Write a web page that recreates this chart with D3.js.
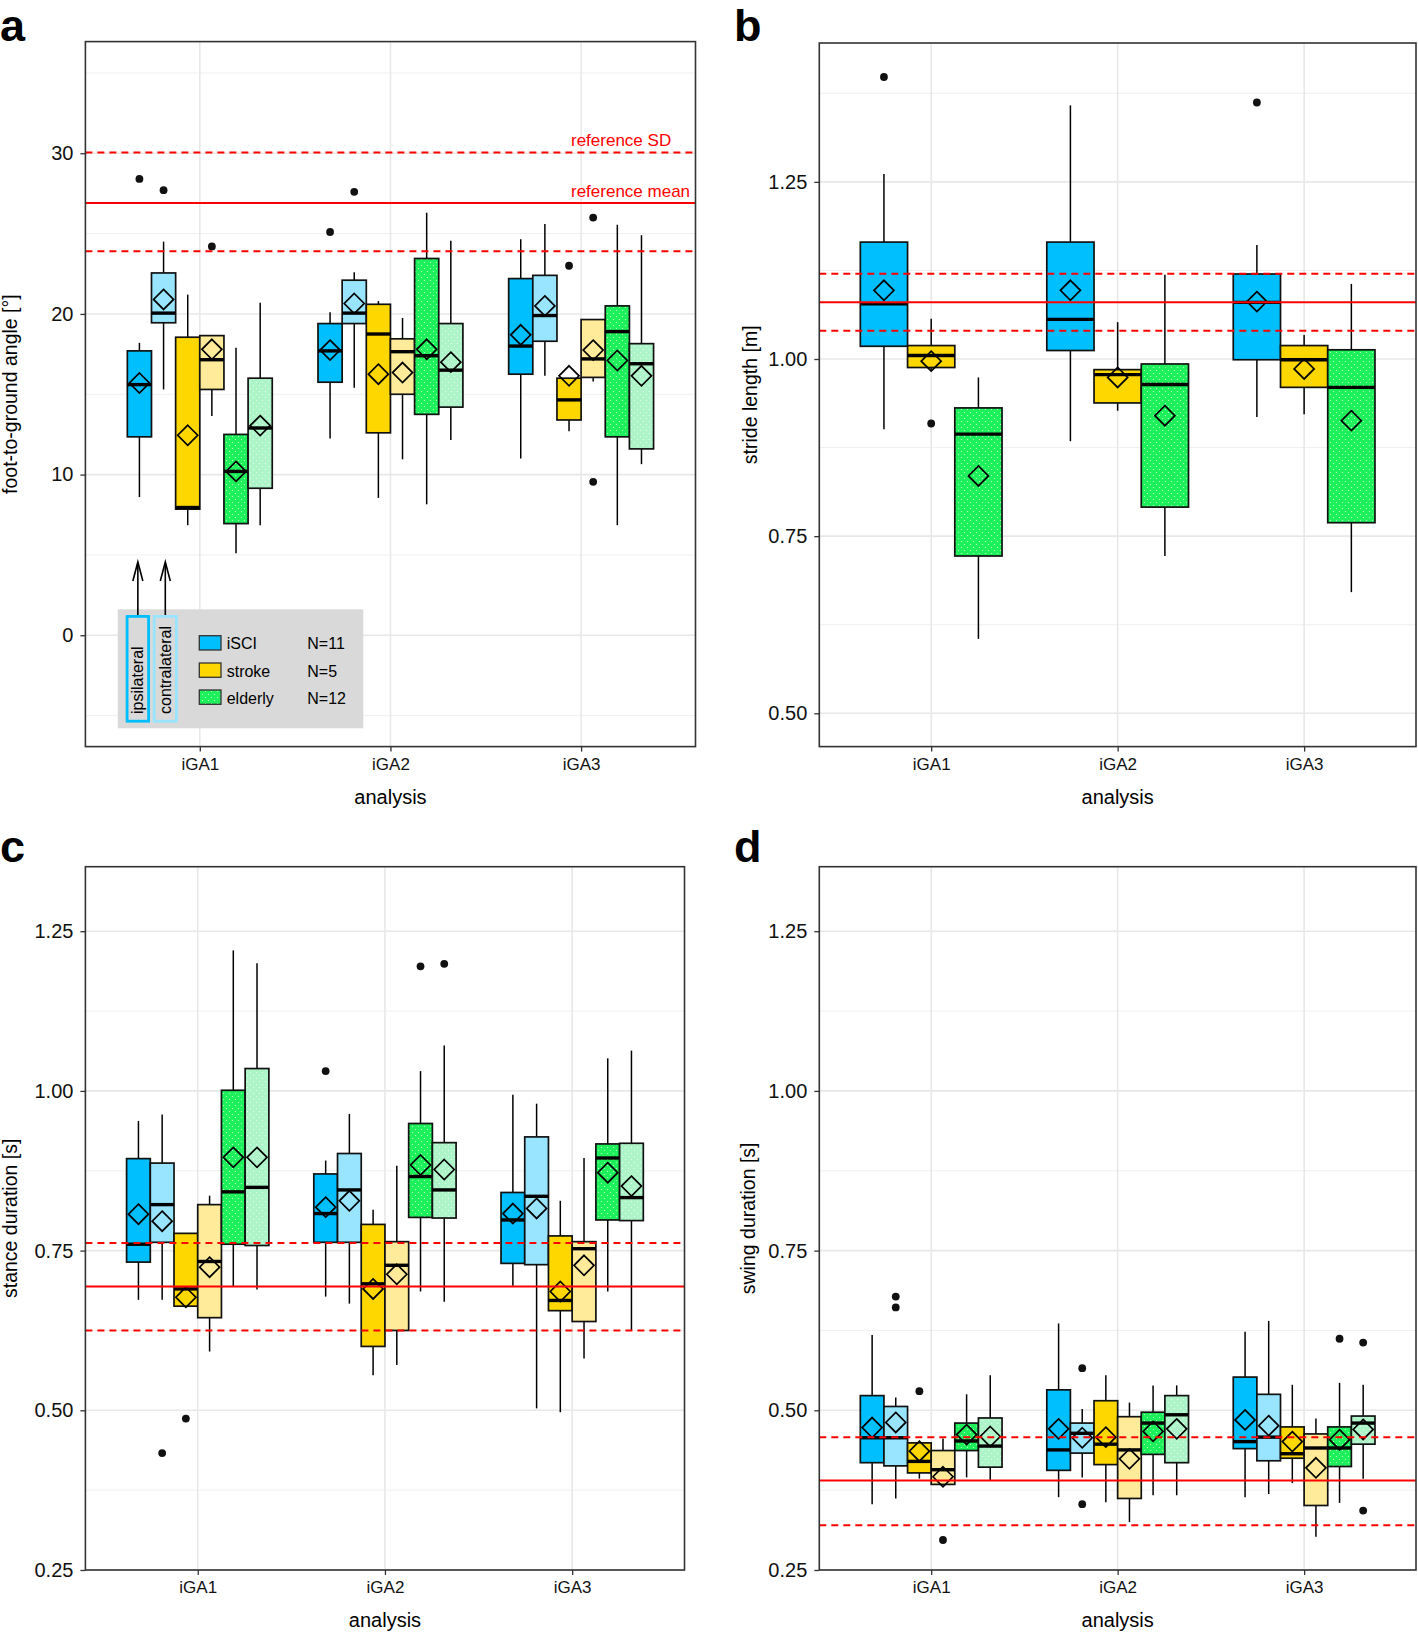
<!DOCTYPE html>
<html><head><meta charset="utf-8">
<script src="https://cdn.jsdelivr.net/npm/d3@7"></script>
<style>
body{margin:0;background:#fff;}
svg{display:block;font-family:"Liberation Sans",Arial,Helvetica,sans-serif;}
</style>
</head><body>
<svg id="chart" width="1418" height="1632"></svg>
<script>
// ---------------- DATA ----------------
const analyses = ["iGA1", "iGA2", "iGA3"];
const sideGroups = ["iSCI-ipsi", "iSCI-contra", "stroke-ipsi", "stroke-contra", "elderly-ipsi", "elderly-contra"];
const cohortGroups = ["iSCI", "stroke", "elderly"];
const legendLabels = ["iSCI", "stroke", "elderly"];
const legendCounts = ["N=11", "N=5", "N=12"];
const sideLabels = ["ipsilateral", "contralateral"];
const refLabels = ["reference SD", "reference mean"];

const angleTicks = [0, 10, 20, 30];
const strideTicks = [0.50, 0.75, 1.00, 1.25];
const durationTicks = [0.25, 0.50, 0.75, 1.00, 1.25];

// columns: analysis, group, lower whisker, Q1, median, Q3, upper whisker, mean
const angleStats = [
  ["iGA1","iSCI-ipsi",     8.6, 12.35, 15.6, 17.7, 18.2, 15.7],
  ["iGA1","iSCI-contra",  15.3, 19.45, 20.05, 22.55, 24.5, 20.9],
  ["iGA1","stroke-ipsi",   6.85, 7.85, 7.95, 18.55, 21.2, 12.45],
  ["iGA1","stroke-contra",13.65, 15.3, 17.15, 18.65, 18.65, 17.8],
  ["iGA1","elderly-ipsi",  5.1, 6.95, 10.2, 12.5, 17.9, 10.2],
  ["iGA1","elderly-contra",6.85, 9.15, 12.9, 16.0, 20.7, 13.05],
  ["iGA2","iSCI-ipsi",    12.25, 15.75, 17.7, 19.4, 20.1, 17.75],
  ["iGA2","iSCI-contra",  15.4, 19.4, 20.05, 22.1, 22.6, 20.65],
  ["iGA2","stroke-ipsi",   8.55, 12.6, 18.75, 20.6, 20.8, 16.25],
  ["iGA2","stroke-contra",10.95, 15.0, 17.65, 18.45, 19.75, 16.35],
  ["iGA2","elderly-ipsi",  8.15, 13.75, 17.4, 23.45, 26.3, 17.8],
  ["iGA2","elderly-contra",12.15, 14.2, 16.5, 19.4, 24.55, 17.0],
  ["iGA3","iSCI-ipsi",    11.0, 16.25, 18.0, 22.2, 24.65, 18.7],
  ["iGA3","iSCI-contra",  16.15, 18.3, 19.9, 22.4, 25.6, 20.5],
  ["iGA3","stroke-ipsi",  12.7, 13.4, 14.65, 16.0, 16.0, 16.15],
  ["iGA3","stroke-contra",15.8, 16.05, 17.2, 19.65, 19.65, 17.75],
  ["iGA3","elderly-ipsi",  6.85, 12.35, 18.9, 20.5, 25.55, 17.1],
  ["iGA3","elderly-contra",10.65, 11.6, 16.9, 18.15, 24.9, 16.15]
];
const angleOutliers = [
  ["iGA1","iSCI-ipsi",28.4], ["iGA1","iSCI-contra",27.7], ["iGA1","stroke-contra",24.2],
  ["iGA2","iSCI-ipsi",25.1], ["iGA2","iSCI-contra",27.6],
  ["iGA3","stroke-ipsi",23.0], ["iGA3","stroke-contra",26.0], ["iGA3","stroke-contra",9.55]
];
const angleReference = [26.9, 23.9, 30.05]; // mean, mean-SD, mean+SD

const strideStats = [
  ["iGA1","iSCI",    0.901, 1.018, 1.078, 1.165, 1.261, 1.097],
  ["iGA1","stroke",  0.985, 0.988, 1.005, 1.019, 1.057, 0.997],
  ["iGA1","elderly", 0.605, 0.722, 0.894, 0.931, 0.974, 0.835],
  ["iGA2","iSCI",    0.884, 1.012, 1.056, 1.165, 1.358, 1.097],
  ["iGA2","stroke",  0.927, 0.938, 0.978, 0.985, 1.052, 0.974],
  ["iGA2","elderly", 0.722, 0.791, 0.964, 0.993, 1.119, 0.920],
  ["iGA3","iSCI",    0.918, 0.999, 1.080, 1.120, 1.161, 1.081],
  ["iGA3","stroke",  0.922, 0.960, 0.999, 1.019, 1.034, 0.986],
  ["iGA3","elderly", 0.671, 0.769, 0.960, 1.013, 1.106, 0.913]
];
const strideOutliers = [["iGA1","iSCI",1.398], ["iGA1","stroke",0.909], ["iGA3","iSCI",1.362]];
const strideReference = [1.080, 1.040, 1.1205];

const stanceStats = [
  ["iGA1","iSCI-ipsi",     0.673, 0.732, 0.760, 0.894, 0.953, 0.807],
  ["iGA1","iSCI-contra",   0.673, 0.763, 0.822, 0.887, 0.963, 0.796],
  ["iGA1","stroke-ipsi",   0.663, 0.663, 0.690, 0.777, 0.777, 0.677],
  ["iGA1","stroke-contra", 0.592, 0.645, 0.733, 0.822, 0.836, 0.724],
  ["iGA1","elderly-ipsi",  0.694, 0.760, 0.842, 1.001, 1.220, 0.896],
  ["iGA1","elderly-contra",0.689, 0.758, 0.849, 1.035, 1.200, 0.896],
  ["iGA2","iSCI-ipsi",     0.678, 0.763, 0.808, 0.870, 0.891, 0.818],
  ["iGA2","iSCI-contra",   0.667, 0.763, 0.845, 0.902, 0.964, 0.828],
  ["iGA2","stroke-ipsi",   0.555, 0.600, 0.698, 0.791, 0.814, 0.690],
  ["iGA2","stroke-contra", 0.571, 0.625, 0.727, 0.764, 0.883, 0.713],
  ["iGA2","elderly-ipsi",  0.686, 0.802, 0.866, 0.949, 1.031, 0.884],
  ["iGA2","elderly-contra",0.670, 0.801, 0.845, 0.919, 1.071, 0.877],
  ["iGA3","iSCI-ipsi",     0.695, 0.730, 0.798, 0.841, 0.994, 0.808],
  ["iGA3","iSCI-contra",   0.503, 0.728, 0.835, 0.928, 0.980, 0.816],
  ["iGA3","stroke-ipsi",   0.497, 0.656, 0.672, 0.773, 0.828, 0.686],
  ["iGA3","stroke-contra", 0.581, 0.639, 0.753, 0.764, 0.895, 0.727],
  ["iGA3","elderly-ipsi",  0.686, 0.798, 0.895, 0.917, 1.051, 0.872],
  ["iGA3","elderly-contra",0.625, 0.797, 0.833, 0.918, 1.063, 0.851]
];
const stanceOutliers = [
  ["iGA1","iSCI-contra",0.433], ["iGA1","stroke-ipsi",0.487],
  ["iGA2","iSCI-ipsi",1.031], ["iGA2","elderly-ipsi",1.195], ["iGA2","elderly-contra",1.199]
];
const stanceReference = [0.694, 0.625, 0.762];

const swingStats = [
  ["iGA1","iSCI-ipsi",     0.353, 0.418, 0.457, 0.523, 0.618, 0.473],
  ["iGA1","iSCI-contra",   0.362, 0.413, 0.457, 0.506, 0.520, 0.481],
  ["iGA1","stroke-ipsi",   0.393, 0.402, 0.420, 0.449, 0.449, 0.436],
  ["iGA1","stroke-contra", 0.384, 0.384, 0.407, 0.437, 0.456, 0.396],
  ["iGA1","elderly-ipsi",  0.395, 0.437, 0.452, 0.480, 0.525, 0.462],
  ["iGA1","elderly-contra",0.391, 0.411, 0.444, 0.488, 0.555, 0.459],
  ["iGA2","iSCI-ipsi",     0.364, 0.406, 0.438, 0.532, 0.636, 0.471],
  ["iGA2","iSCI-contra",   0.395, 0.433, 0.464, 0.480, 0.502, 0.457],
  ["iGA2","stroke-ipsi",   0.356, 0.415, 0.447, 0.515, 0.555, 0.458],
  ["iGA2","stroke-contra", 0.325, 0.362, 0.438, 0.490, 0.512, 0.424],
  ["iGA2","elderly-ipsi",  0.367, 0.431, 0.480, 0.497, 0.539, 0.467],
  ["iGA2","elderly-contra",0.367, 0.418, 0.493, 0.523, 0.539, 0.471],
  ["iGA3","iSCI-ipsi",     0.364, 0.440, 0.451, 0.552, 0.623, 0.485],
  ["iGA3","iSCI-contra",   0.369, 0.421, 0.458, 0.525, 0.640, 0.476],
  ["iGA3","stroke-ipsi",   0.386, 0.425, 0.432, 0.474, 0.540, 0.451],
  ["iGA3","stroke-contra", 0.302, 0.351, 0.441, 0.463, 0.487, 0.410],
  ["iGA3","elderly-ipsi",  0.355, 0.412, 0.441, 0.474, 0.543, 0.454],
  ["iGA3","elderly-contra",0.393, 0.447, 0.480, 0.491, 0.540, 0.470]
];
const swingOutliers = [
  ["iGA1","iSCI-contra",0.678], ["iGA1","iSCI-contra",0.661], ["iGA1","stroke-ipsi",0.530], ["iGA1","stroke-contra",0.297],
  ["iGA2","iSCI-contra",0.566], ["iGA2","iSCI-contra",0.353],
  ["iGA3","elderly-ipsi",0.612], ["iGA3","elderly-contra",0.606], ["iGA3","elderly-contra",0.343]
];
const swingReference = [0.390, 0.320, 0.458];

// ---------------- STYLE ----------------
const fillColor = {
  "iSCI-ipsi":"#00bfff", "iSCI-contra":"#99e5ff",
  "stroke-ipsi":"#ffd700", "stroke-contra":"#ffeb99",
  "elderly-ipsi":"#1ef05c", "elderly-contra":"#adf5c9",
  "iSCI":"#00bfff", "stroke":"#ffd700", "elderly":"#1ef05c"
};
const svg = d3.select("#chart");
const defs = svg.append("defs");
["elderly-ipsi","elderly-contra","elderly"].forEach(k => {
  const p = defs.append("pattern").attr("id","pat-"+k).attr("width",6).attr("height",6)
    .attr("patternUnits","userSpaceOnUse");
  p.append("rect").attr("width",6).attr("height",6).attr("fill",fillColor[k]);
  p.append("circle").attr("cx",1.5).attr("cy",1.5).attr("r",0.6).attr("fill","#fff").attr("opacity",0.75);
  p.append("circle").attr("cx",4.5).attr("cy",4.5).attr("r",0.6).attr("fill","#fff").attr("opacity",0.75);
});
const fillFor = g => g.startsWith("elderly") ? `url(#pat-${g})` : fillColor[g];

const panels = [
  {letter:"a", lx:0, ly:41, left:85.4, right:695.5, top:41.6, bottom:746.6, ydomain:[-6.93,36.95],
   ticks:angleTicks, fmt:d3.format("d"), groups:sideGroups, stats:angleStats, outliers:angleOutliers,
   ref:angleReference, ytitle:"foot-to-ground angle [°]", tx:17},
  {letter:"b", lx:734, ly:41, left:819.3, right:1416, top:43, bottom:746.6, ydomain:[0.453,1.446],
   ticks:strideTicks, fmt:d3.format(".2f"), groups:cohortGroups, stats:strideStats, outliers:strideOutliers,
   ref:strideReference, ytitle:"stride length [m]", tx:757},
  {letter:"c", lx:0, ly:862, left:85.4, right:684.5, top:866.7, bottom:1570, ydomain:[0.25,1.351],
   ticks:durationTicks, fmt:d3.format(".2f"), groups:sideGroups, stats:stanceStats, outliers:stanceOutliers,
   ref:stanceReference, ytitle:"stance duration [s]", tx:17},
  {letter:"d", lx:734, ly:862, left:819.3, right:1416, top:866.7, bottom:1570, ydomain:[0.25,1.351],
   ticks:durationTicks, fmt:d3.format(".2f"), groups:sideGroups, stats:swingStats, outliers:swingOutliers,
   ref:swingReference, ytitle:"swing duration [s]", tx:755}
];

function drawPanel(P) {
  const g = svg.append("g");
  const x = d3.scalePoint().domain(analyses).range([P.left, P.right]).padding(0.6);
  const y = d3.scaleLinear().domain(P.ydomain).range([P.bottom, P.top]);
  const dodge = d3.scaleBand().domain(P.groups).range([-0.38*x.step(), 0.38*x.step()]);
  const bw = dodge.bandwidth();

  // grid
  const step = P.ticks[1]-P.ticks[0];
  const minor = [P.ticks[0]-step/2, ...P.ticks.map(t=>t+step/2)].filter(v=>v>P.ydomain[0]&&v<P.ydomain[1]);
  g.append("g").selectAll("line").data(minor).join("line")
    .attr("x1",P.left).attr("x2",P.right).attr("y1",d=>y(d)).attr("y2",d=>y(d))
    .attr("stroke","#f0f0f0").attr("stroke-width",1);
  g.append("g").selectAll("line").data(P.ticks).join("line")
    .attr("x1",P.left).attr("x2",P.right).attr("y1",d=>y(d)).attr("y2",d=>y(d))
    .attr("stroke","#e8e8e8").attr("stroke-width",1.6);
  g.append("g").selectAll("line").data(analyses).join("line")
    .attr("x1",d=>x(d)).attr("x2",d=>x(d)).attr("y1",P.top).attr("y2",P.bottom)
    .attr("stroke","#e8e8e8").attr("stroke-width",1.6);

  // boxes
  const cxOf = (an, grp) => x(an) + dodge(grp) + bw/2;
  P.stats.forEach(r => {
    const [an, grp, wlo, q1, med, q3, whi] = r;
    const cx = cxOf(an, grp);
    const bg = g.append("g");
    bg.append("line").attr("x1",cx).attr("x2",cx).attr("y1",y(whi)).attr("y2",y(q3))
      .attr("stroke","#000").attr("stroke-width",1.5);
    bg.append("line").attr("x1",cx).attr("x2",cx).attr("y1",y(q1)).attr("y2",y(wlo))
      .attr("stroke","#000").attr("stroke-width",1.5);
    bg.append("rect").attr("x",cx-bw/2).attr("y",y(q3)).attr("width",bw).attr("height",y(q1)-y(q3))
      .attr("fill",fillFor(grp)).attr("stroke","#111").attr("stroke-width",1.7);
    bg.append("line").attr("x1",cx-bw/2).attr("x2",cx+bw/2).attr("y1",y(med)).attr("y2",y(med))
      .attr("stroke","#000").attr("stroke-width",3.4);
  });
  // outliers
  g.append("g").selectAll("circle").data(P.outliers).join("circle")
    .attr("cx",d=>cxOf(d[0],d[1])).attr("cy",d=>y(d[2])).attr("r",3.9).attr("fill","#111");
  // means (open diamonds)
  g.append("g").selectAll("path").data(P.stats).join("path")
    .attr("d", d => { const cx = cxOf(d[0],d[1]), cy = y(d[7]), s = 10;
      return `M${cx},${cy-s}L${cx+s},${cy}L${cx},${cy+s}L${cx-s},${cy}Z`; })
    .attr("fill","none").attr("stroke","#000").attr("stroke-width",1.7);

  // reference lines
  const [rm, rlo, rhi] = P.ref;
  g.append("line").attr("x1",P.left).attr("x2",P.right).attr("y1",y(rm)).attr("y2",y(rm))
    .attr("stroke","#ff0000").attr("stroke-width",2);
  [rlo, rhi].forEach(v => g.append("line").attr("x1",P.left).attr("x2",P.right).attr("y1",y(v)).attr("y2",y(v))
    .attr("stroke","#ff0000").attr("stroke-width",2).attr("stroke-dasharray","7,5"));

  // axes
  const ya = g.append("g").attr("transform",`translate(${P.left},0)`)
    .call(d3.axisLeft(y).tickValues(P.ticks).tickFormat(P.fmt).tickSize(5).tickPadding(7));
  ya.select(".domain").remove();
  ya.selectAll("line").attr("stroke","#333").attr("stroke-width",1.3);
  ya.selectAll("text").attr("font-size",20).attr("fill","#111").attr("font-family",null);
  const xa = g.append("g").attr("transform",`translate(0,${P.bottom})`)
    .call(d3.axisBottom(x).tickSize(5).tickPadding(6));
  xa.select(".domain").remove();
  xa.selectAll("line").attr("stroke","#333").attr("stroke-width",1.3);
  xa.selectAll("text").attr("font-size",17).attr("fill","#111").attr("font-family",null);

  // border
  g.append("rect").attr("x",P.left).attr("y",P.top).attr("width",P.right-P.left).attr("height",P.bottom-P.top)
    .attr("fill","none").attr("stroke","#333").attr("stroke-width",1.6);

  // titles
  g.append("text").attr("x",(P.left+P.right)/2).attr("y",P.bottom+57).attr("text-anchor","middle")
    .attr("font-size",20).attr("fill","#000").text("analysis");
  g.append("text").attr("transform",`translate(${P.tx},${(P.top+P.bottom)/2}) rotate(-90)`)
    .attr("text-anchor","middle").attr("font-size",19.5).attr("fill","#000").text(P.ytitle);
  g.append("text").attr("x",P.lx).attr("y",P.ly).attr("font-size",45).attr("font-weight","bold")
    .attr("fill","#000").text(P.letter);
  return {g, x, y};
}

const drawn = panels.map(drawPanel);

// reference labels in panel a
const pa = drawn[0];
pa.g.append("text").attr("x",571).attr("y",pa.y(angleReference[2])-6).attr("font-size",17)
  .attr("fill","#ff0000").text(refLabels[0]);
pa.g.append("text").attr("x",571).attr("y",pa.y(angleReference[0])-6).attr("font-size",17)
  .attr("fill","#ff0000").text(refLabels[1]);

// legend in panel a
const lg = pa.g.append("g");
lg.append("rect").attr("x",117.7).attr("y",609.3).attr("width",245.6).attr("height",119).attr("fill","#d9d9d9");
const sideBoxes = [{x:127.1, w:21.5, c:"#00bfff"}, {x:154.2, w:22.2, c:"#99e5ff"}];
sideBoxes.forEach((b, i) => {
  lg.append("rect").attr("x",b.x).attr("y",616.4).attr("width",b.w).attr("height",104.8)
    .attr("fill","none").attr("stroke",b.c).attr("stroke-width",2.8);
  const cx = b.x + b.w/2;
  lg.append("text").attr("transform",`translate(${cx+5.5},714) rotate(-90)`)
    .attr("font-size",16).attr("fill","#000").text(sideLabels[i]);
  lg.append("line").attr("x1",cx).attr("x2",cx).attr("y1",615).attr("y2",563)
    .attr("stroke","#000").attr("stroke-width",1.6);
  lg.append("path").attr("d",`M${cx-5},${581}L${cx},${562}L${cx+5},${581}`)
    .attr("fill","none").attr("stroke","#000").attr("stroke-width",1.6);
});
const keyY = [635.7, 663, 690];
cohortGroups.forEach((k, i) => {
  lg.append("rect").attr("x",199.3).attr("y",keyY[i]).attr("width",21.7).attr("height",14.3)
    .attr("fill",fillFor(k)).attr("stroke","#333").attr("stroke-width",1.3);
  lg.append("text").attr("x",226.7).attr("y",keyY[i]+13.5).attr("font-size",16).attr("fill","#000").text(legendLabels[i]);
  lg.append("text").attr("x",307.3).attr("y",keyY[i]+13.5).attr("font-size",16).attr("fill","#000").text(legendCounts[i]);
});
</script>
</body></html>
